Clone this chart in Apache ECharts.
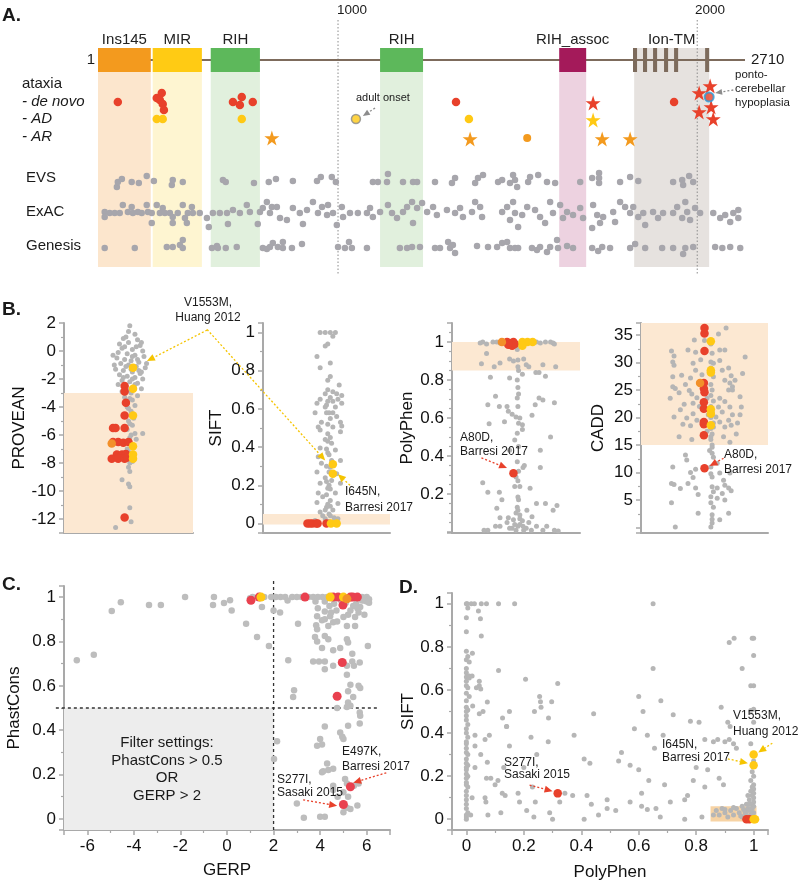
<!DOCTYPE html>
<html lang="en">
<head>
<meta charset="UTF-8">
<title>ITPR1 variants</title>
<script src="https://cdn.jsdelivr.net/npm/echarts/dist/echarts.min.js"></script>
<style>
  html, body { margin: 0; padding: 0; background: #fff; }
  #chart { width: 800px; height: 888px; }
</style>
</head>
<body>
<div id="chart"></div>
<script>
// ---------- panel A: protein diagram (residue, lane) ----------
var proteinLength = 2710;
var domains = [
  ['Ins145', 1, 222],
  ['MIR', 230, 436],
  ['RIH', 473, 679],
  ['RIH', 1182, 1362],
  ['RIH_assoc', 1932, 2045]
];
var ionTmRegion = ['Ion-TM', 2246, 2560];
var tmSegments = [[2241, 2258], [2283, 2300], [2325, 2342], [2371, 2388], [2413, 2430], [2543, 2560]];
var guideResidues = [1006, 2510];

var deNovoDots = [[84,82],[247,78],[268,73],[260,80],[272,84],[277,90],[566,82],[603,77],[595,85],[649,82],[1500,82],[2413,82]];
var deNovoStars = [[2074,83],[2564,66],[2518,73],[2518,92],[2568,87],[2577,99]];
var pchDot = [[2560,77]];
var adDots = [[247,99],[272,99],[603,99],[1554,99]];
var adultOnsetDot = [[1081,99]];
var adStars = [[2074,100]];
var arStars = [[729,118],[1559,119],[2112,119],[2229,119]];
var arDots = [[1798,118]];

var evsDots = [[80,167],[84,162],[101,159],[142,162],[172,163],[205,156],[235,161],[310,165],[314,160],[356,162],[524,160],[536,162],[654,163],[716,162],[746,159],[817,161],[918,161],[934,157],[980,157],[997,162],[1152,162],[1173,162],[1215,154],[1211,162],[1278,162],[1320,162],[1337,162],[1412,162],[1483,163],[1496,158],[1580,163],[1592,158],[1613,155],[1676,162],[1693,160],[1726,163],[1739,155],[1747,160],[1756,167],[1802,162],[1810,157],[1844,155],[1881,162],[1915,163],[2020,162],[2070,158],[2099,153],[2099,158],[2099,163],[2187,162],[2229,157],[2263,161],[2409,162],[2447,160],[2476,156],[2451,165],[2493,162]];

var exacDots = [[29,192],[29,197],[50,193],[71,193],[92,193],[105,185],[126,192],[142,187],[147,193],[168,192],[184,193],[205,185],[210,192],[226,193],[226,203],[247,185],[260,193],[272,188],[281,193],[302,193],[314,197],[314,203],[335,193],[356,185],[365,198],[373,203],[377,193],[394,187],[398,193],[427,193],[457,198],[465,207],[482,193],[511,193],[541,193],[545,204],[566,190],[595,193],[624,185],[637,192],[670,204],[679,192],[691,188],[708,182],[721,193],[729,187],[750,187],[763,198],[792,200],[817,188],[846,193],[859,204],[876,190],[901,182],[922,193],[939,187],[960,195],[964,185],[985,193],[1001,205],[1022,187],[1027,197],[1056,193],[1089,193],[1127,193],[1140,188],[1152,197],[1182,192],[1215,185],[1232,193],[1253,198],[1278,192],[1295,187],[1316,182],[1320,203],[1337,188],[1358,183],[1379,192],[1404,187],[1420,195],[1462,190],[1496,193],[1517,188],[1529,197],[1567,192],[1580,182],[1601,187],[1609,197],[1693,192],[1714,187],[1726,200],[1739,182],[1747,193],[1760,207],[1777,195],[1798,187],[1831,190],[1852,197],[1873,203],[1894,182],[1906,193],[1936,185],[1948,198],[1965,192],[1990,195],[2020,188],[2032,198],[2070,208],[2074,185],[2091,195],[2103,203],[2116,197],[2158,192],[2166,202],[2187,182],[2208,187],[2229,193],[2242,187],[2263,197],[2284,193],[2292,205],[2325,192],[2346,198],[2367,193],[2409,193],[2426,187],[2447,198],[2460,182],[2468,192],[2480,200],[2501,188],[2522,193],[2577,193],[2606,198],[2627,195],[2648,202],[2661,193],[2682,190],[2682,198]];

var genesisDots = [[29,228],[155,228],[289,227],[314,227],[344,225],[356,220],[356,228],[478,228],[499,226],[503,228],[536,228],[582,227],[691,228],[708,229],[721,227],[733,223],[754,227],[775,222],[775,228],[813,228],[855,224],[1006,227],[1035,228],[1052,222],[1064,228],[1127,228],[1265,228],[1295,228],[1316,227],[1349,227],[1412,228],[1433,228],[1467,222],[1475,228],[1487,225],[1496,233],[1588,226],[1634,227],[1672,227],[1693,223],[1714,222],[1726,228],[1747,228],[1760,228],[1818,228],[1839,230],[1852,227],[1881,232],[1894,227],[1923,220],[1927,228],[1965,226],[1990,228],[2070,228],[2095,231],[2112,227],[2145,228],[2229,228],[2250,224],[2292,228],[2363,228],[2409,228],[2451,234],[2460,228],[2493,227],[2585,227],[2615,228],[2648,227],[2690,228]];

var arrowsA = [[1161,88,1110,96],[2661,70,2585,73]];

// ---------- panel B: strip plots (jitter, score) ----------
var proveanGray = [[0.51,1.8],[0.5,1.4],[0.55,1.2],[0.46,0.9],[0.57,0.8],[0.43,0.5],[0.5,0.6],[0.59,0.4],[0.45,0.2],[0.53,0.1],[0.61,0.0],[0.42,-0.1],[0.49,-0.2],[0.55,-0.3],[0.62,-0.4],[0.41,-0.5],[0.47,-0.6],[0.52,-0.7],[0.58,-0.8],[0.44,-0.9],[0.5,-1.0],[0.56,-1.1],[0.63,-1.2],[0.4,-1.3],[0.46,-1.4],[0.53,-1.5],[0.59,-1.6],[0.43,-1.7],[0.49,-1.8],[0.55,-1.9],[0.61,-2.0],[0.45,-2.1],[0.51,-2.2],[0.57,-2.3],[0.42,-2.4],[0.48,-2.5],[0.54,-2.6],[0.6,-2.7],[0.45,-2.9],[0.52,-3.0],[0.57,-3.2],[0.47,-3.3],[0.53,-3.5],[0.49,-3.7],[0.55,-3.9],[0.5,-4.1],[0.52,-4.3],[0.48,-4.6],[0.54,-4.8],[0.5,-5.0],[0.53,-5.3],[0.49,-5.6],[0.55,-5.9],[0.51,-6.2],[0.5,-6.5],[0.53,-6.9],[0.5,-7.2],[0.52,-7.6],[0.51,-8.0],[0.51,-8.6],[0.45,-9.2],[0.5,-9.5],[0.51,-9.7],[0.51,-11.2],[0.52,-12.2],[0.4,-12.6],[0.47,0.3],[0.53,-0.4],[0.57,-0.6],[0.48,-1.1],[0.52,-1.3],[0.58,-1.4],[0.46,-1.9],[0.53,-2.0],[0.5,-2.8],[0.55,-2.4],[0.6,-1.5],[0.64,-0.9],[0.39,-1.0],[0.56,0.3],[0.48,1.0],[0.6,0.6],[0.38,-0.3],[0.51,-3.4],[0.49,-4.0],[0.51,-5.2],[0.52,-6.0],[0.56,-6.3],[0.49,-7.0],[0.53,-7.9],[0.5,-8.3],[0.61,-5.9]];
var proveanRed = [[0.47,-2.5],[0.47,-2.9],[0.48,-3.7],[0.47,-4.6],[0.38,-5.5],[0.4,-5.5],[0.47,-5.5],[0.38,-6.5],[0.42,-6.5],[0.46,-6.55],[0.5,-6.5],[0.41,-7.4],[0.45,-7.4],[0.48,-7.35],[0.37,-7.7],[0.42,-7.7],[0.47,-7.7],[0.49,-7.6],[0.47,-11.9]];
var proveanOrange = [[0.37,-6.6]];
var proveanYellow = [[0.535,-1.2],[0.535,-2.7],[0.535,-4.6],[0.535,-6.8],[0.535,-7.4],[0.535,-7.7]];

var siftGray = [[0.45,1.0],[0.49,1.0],[0.53,1.0],[0.57,1.0],[0.55,0.98],[0.51,0.94],[0.49,0.93],[0.425,0.875],[0.45,0.815],[0.53,0.84],[0.53,0.77],[0.51,0.75],[0.6,0.725],[0.51,0.70],[0.55,0.69],[0.49,0.68],[0.58,0.68],[0.62,0.67],[0.53,0.66],[0.55,0.64],[0.51,0.64],[0.45,0.65],[0.59,0.65],[0.425,0.63],[0.49,0.61],[0.57,0.61],[0.62,0.63],[0.5,0.58],[0.55,0.58],[0.41,0.58],[0.58,0.56],[0.53,0.55],[0.61,0.53],[0.46,0.53],[0.435,0.505],[0.55,0.505],[0.62,0.51],[0.45,0.49],[0.51,0.47],[0.61,0.48],[0.49,0.44],[0.54,0.42],[0.45,0.395],[0.57,0.385],[0.51,0.37],[0.435,0.35],[0.61,0.33],[0.46,0.315],[0.53,0.295],[0.425,0.27],[0.58,0.26],[0.49,0.24],[0.54,0.225],[0.45,0.21],[0.61,0.21],[0.51,0.185],[0.435,0.16],[0.57,0.16],[0.47,0.14],[0.53,0.12],[0.425,0.11],[0.59,0.105],[0.5,0.085],[0.55,0.07],[0.45,0.06],[0.53,0.04],[0.49,0.025],[0.41,0.015],[0.59,0.025],[0.55,0.005],[0.52,0.36],[0.5,0.3],[0.52,0.2],[0.5,0.15],[0.53,0.09],[0.52,0.05],[0.54,0.33],[0.51,0.43],[0.52,0.58],[0.5,0.62],[0.52,0.27],[0.5,0.22],[0.53,0.18],[0.51,0.1],[0.49,0.07],[0.52,0.01],[0.56,0.03],[0.47,0.04],[0.51,0.52],[0.53,0.45],[0.5,0.39]];
var siftRed = [[0.35,0],[0.37,0],[0.39,0],[0.42,0],[0.43,0],[0.5,0]];
var siftYellow = [[0.535,0],[0.58,0],[0.55,0.31],[0.55,0.26]];

var polyGray = [[0.22,0.995],[0.24,1.0],[0.27,0.99],[0.32,1.0],[0.375,0.995],[0.66,1.0],[0.69,0.995],[0.73,1.0],[0.77,1.0],[0.79,0.995],[0.8,0.99],[0.35,1.0],[0.6,1.0],[0.52,0.99],[0.53,0.98],[0.5,0.975],[0.23,0.885],[0.27,0.94],[0.33,0.87],[0.375,0.89],[0.51,0.96],[0.515,0.905],[0.515,0.87],[0.52,0.85],[0.51,0.8],[0.515,0.76],[0.52,0.726],[0.51,0.705],[0.515,0.66],[0.5,0.605],[0.53,0.6],[0.52,0.573],[0.45,0.91],[0.48,0.9],[0.56,0.91],[0.58,0.88],[0.6,0.87],[0.71,0.88],[0.81,0.87],[0.655,0.84],[0.68,0.84],[0.73,0.82],[0.3,0.815],[0.45,0.81],[0.55,0.83],[0.34,0.715],[0.28,0.67],[0.37,0.66],[0.43,0.66],[0.44,0.635],[0.65,0.67],[0.68,0.705],[0.71,0.695],[0.8,0.68],[0.625,0.615],[0.47,0.62],[0.41,0.58],[0.29,0.57],[0.55,0.565],[0.55,0.54],[0.49,0.485],[0.45,0.43],[0.51,0.37],[0.555,0.34],[0.515,0.27],[0.49,0.24],[0.53,0.24],[0.69,0.43],[0.77,0.5],[0.24,0.26],[0.28,0.21],[0.37,0.21],[0.39,0.17],[0.61,0.23],[0.69,0.34],[0.565,0.35],[0.515,0.185],[0.52,0.17],[0.51,0.13],[0.515,0.115],[0.53,0.09],[0.48,0.065],[0.55,0.06],[0.49,0.04],[0.515,0.03],[0.47,0.02],[0.555,0.03],[0.43,0.05],[0.375,0.03],[0.34,0.03],[0.28,0.01],[0.62,0.01],[0.66,0.03],[0.71,0.01],[0.8,0.01],[0.83,0.005],[0.66,0.15],[0.73,0.15],[0.79,0.115],[0.82,0.14],[0.585,0.115],[0.625,0.08],[0.35,0.125],[0.375,0.075],[0.44,0.075],[0.25,0.01],[0.74,0.03],[0.53,0.04],[0.5,0.01],[0.56,0.01],[0.52,0.45],[0.51,0.52],[0.52,0.32],[0.5,0.29],[0.53,0.07],[0.5,0.1],[0.45,0.02],[0.58,0.02],[0.6,0.05]];
var polyRed = [[0.43,1.0],[0.45,0.995],[0.48,1.0],[0.49,0.99],[0.47,0.98],[0.44,0.985],[0.48,0.31]];
var polyOrange = [[0.39,1.0]];
var polyYellow = [[0.55,1.0],[0.59,1.0],[0.63,1.0],[0.55,0.98]];

var caddGray = [[0.24,32.1],[0.26,31.2],[0.25,30.1],[0.26,29.5],[0.37,32.3],[0.42,34.1],[0.43,31.9],[0.61,35.2],[0.67,36.3],[0.62,32.3],[0.66,32.3],[0.55,33.4],[0.56,31.7],[0.55,30.1],[0.57,29.9],[0.55,29.0],[0.56,28.3],[0.57,27.4],[0.41,29.9],[0.43,28.6],[0.39,27.2],[0.25,27.4],[0.32,27.7],[0.25,25.6],[0.27,25.3],[0.23,23.5],[0.38,24.9],[0.4,24.3],[0.44,23.6],[0.41,22.6],[0.34,22.4],[0.31,21.4],[0.26,20.1],[0.36,19.9],[0.41,20.7],[0.44,19.5],[0.39,18.5],[0.33,18.8],[0.62,30.4],[0.64,28.6],[0.69,29.0],[0.71,27.6],[0.66,26.8],[0.70,26.3],[0.72,25.6],[0.69,25.0],[0.74,26.8],[0.72,25.0],[0.62,23.5],[0.66,22.9],[0.61,21.9],[0.70,21.9],[0.64,21.0],[0.59,20.1],[0.72,20.5],[0.69,19.5],[0.62,19.2],[0.66,18.3],[0.71,18.6],[0.57,18.3],[0.78,20.5],[0.76,19.0],[0.79,21.9],[0.78,23.8],[0.55,26.0],[0.56,25.0],[0.55,24.0],[0.57,23.0],[0.55,22.0],[0.56,21.0],[0.55,20.0],[0.57,19.0],[0.55,18.0],[0.56,17.0],[0.55,16.0],[0.56,15.0],[0.52,23.5],[0.53,20.5],[0.52,17.5],[0.25,11.0],[0.24,8.0],[0.26,7.8],[0.24,4.5],[0.31,7.1],[0.35,13.2],[0.36,12.3],[0.39,10.0],[0.37,8.0],[0.41,9.1],[0.43,7.2],[0.43,10.6],[0.45,6.0],[0.45,2.6],[0.27,0.1],[0.55,16.5],[0.56,14.6],[0.57,12.8],[0.55,11.0],[0.56,9.2],[0.56,7.4],[0.55,5.6],[0.57,3.7],[0.56,2.3],[0.56,0.8],[0.55,0.1],[0.6,11.7],[0.62,9.9],[0.65,8.6],[0.6,7.2],[0.70,9.9],[0.66,7.7],[0.64,6.2],[0.66,5.0],[0.6,5.3],[0.69,2.6],[0.62,1.4],[0.69,7.2],[0.71,6.7],[0.56,13.5],[0.55,9.8],[0.57,6.5],[0.55,4.5],[0.56,1.5],[0.54,14.0],[0.82,31.0],[0.8,28.0],[0.5,34.0],[0.47,30.5],[0.35,26.0],[0.3,24.5],[0.48,27.8],[0.46,22.0],[0.48,19.0],[0.3,16.5],[0.4,16.0],[0.65,16.5],[0.7,15.5],[0.75,17.0]];
var caddRed = [[0.5,36.3],[0.5,35.3],[0.5,32.1],[0.495,26.3],[0.495,25.3],[0.5,24.6],[0.495,22.8],[0.495,21.6],[0.495,19.2],[0.495,18.8],[0.495,16.8],[0.5,10.8]];
var caddOrange = [[0.465,26.3]];
var caddYellow = [[0.55,33.9],[0.55,28.6],[0.55,28.2],[0.55,21.5],[0.55,20.7],[0.55,18.6]];

var arrowsProvean = [[1.11,1.5,0.643,-0.71]];
var arrowsSift = [[-0.44,1.016,0.49,0.33],[0.685,0.2,0.59,0.258]];
var arrowsPoly = [[0.23,0.39,0.43,0.337]];
var arrowsCadd = [[0.65,12.6,0.54,11.2]];

// ---------- panel C: GERP vs PhastCons ----------
var gerpGray = [[-6.45,0.715],[-5.72,0.74],[-4.95,0.937],[-4.56,0.977],[-3.35,0.964],[-2.84,0.964],[-1.8,1.0],[-0.56,1.0],[-0.6,0.964],[-0.13,0.973],[0.13,0.986],[0.2,0.94],[0.82,0.88],[1.29,0.82],[1.8,0.78],[0.99,0.995],[1.5,0.955],[2.0,0.94],[2.28,0.93],[3.05,0.88],[2.63,0.715],[2.84,0.55],[2.88,0.58],[1.1,1.0],[1.6,1.0],[1.9,1.0],[2.1,1.0],[2.3,1.0],[2.5,1.0],[2.8,1.0],[3.0,1.0],[3.2,1.0],[3.5,1.0],[3.7,1.0],[3.9,1.0],[4.1,1.0],[4.3,1.0],[4.5,1.0],[4.7,1.0],[5.5,1.0],[5.8,1.0],[6.0,1.0],[6.1,0.99],[2.6,0.985],[3.8,0.98],[4.2,0.98],[5.9,0.985],[6.1,0.975],[3.87,0.914],[4.08,0.896],[4.2,0.9],[4.43,0.914],[4.73,0.89],[5.0,0.91],[5.2,0.92],[5.5,0.91],[5.65,0.93],[5.72,0.955],[5.42,0.96],[5.3,0.94],[6.0,0.98],[5.55,0.97],[4.47,0.93],[3.83,0.873],[3.87,0.855],[4.35,0.87],[4.56,0.887],[5.15,0.87],[5.5,0.87],[3.78,0.82],[3.87,0.8],[4.2,0.825],[4.35,0.81],[5.15,0.81],[5.2,0.795],[4.08,0.77],[4.56,0.76],[4.86,0.77],[5.38,0.745],[3.7,0.71],[3.95,0.71],[4.2,0.71],[4.56,0.69],[5.15,0.69],[5.38,0.71],[5.7,0.705],[4.2,0.675],[5.15,0.65],[5.45,0.69],[6.05,0.78],[5.3,0.605],[5.65,0.6],[5.72,0.59],[5.2,0.575],[5.42,0.55],[5.7,0.48],[5.72,0.465],[5.2,0.525],[5.3,0.51],[5.15,0.505],[4.73,0.5],[4.2,0.417],[5.2,0.42],[5.7,0.43],[4.0,0.36],[4.08,0.335],[3.87,0.33],[4.86,0.39],[4.95,0.37],[5.0,0.36],[2.15,0.35],[2.02,0.27],[4.3,0.25],[4.35,0.22],[4.08,0.21],[4.13,0.215],[4.56,0.226],[5.07,0.18],[5.15,0.16],[4.56,0.15],[4.56,0.13],[5.0,0.12],[5.2,0.1],[5.15,0.05],[5.3,0.045],[5.6,0.06],[3.0,0.07],[3.3,0.005],[4.0,0.01],[4.2,0.01],[5.65,0.16],[5.45,0.15],[4.75,0.1],[5.0,0.03],[4.6,0.97],[4.9,0.985],[5.1,0.975],[5.8,0.985],[4.4,0.96],[3.9,0.95],[5.6,0.95],[4.7,0.94],[5.9,0.92],[4.2,0.935]];
var gerpRed = [[1.03,0.986],[1.38,1.0],[3.35,1.0],[4.56,1.0],[4.77,1.0],[4.98,0.964],[5.4,1.0],[5.6,1.0],[5.3,1.0],[4.95,0.705],[4.73,0.553],[5.3,0.145],[5.0,0.065]];
var gerpYellow = [[1.46,1.0],[4.43,1.0],[5.0,1.0]];
var gerpOrange = [[5.15,0.992]];
var filterBox = [[-7, 2, -0.05, 0.5]];
var filterLines = [[-7.35,0.5,6.45,0.5],[2,-0.05,2,1.08]];
var arrowsGerp = [[6.84,0.208,5.42,0.163],[3.27,0.086,4.73,0.059]];

// ---------- panel D: PolyPhen vs SIFT ----------
var ppSiftGray = [[0.0,1.0],[0.005,0.98],[0.0,0.935],[0.0,0.87],[0.0,0.78],[0.005,0.755],[0.0,0.74],[0.01,0.73],[0.0,0.70],[0.0,0.66],[0.01,0.655],[0.0,0.62],[0.005,0.61],[0.0,0.585],[0.01,0.57],[0.0,0.52],[0.005,0.507],[0.0,0.48],[0.0,0.46],[0.005,0.44],[0.0,0.42],[0.0,0.40],[0.005,0.38],[0.0,0.35],[0.0,0.33],[0.005,0.30],[0.0,0.28],[0.0,0.26],[0.005,0.25],[0.0,0.23],[0.0,0.21],[0.005,0.2],[0.0,0.19],[0.0,0.17],[0.005,0.15],[0.0,0.13],[0.0,0.11],[0.0,0.09],[0.0,0.05],[0.005,0.03],[0.0,0.02],[0.0,0.01],[0.0,0.0],[0.0,0.55],[0.0,0.5],[0.0,0.64],[0.0,0.68],[0.0,0.36],[0.0,0.31],[0.0,0.24],[0.0,0.16],[0.0,0.07],
  [0.003,1.0],[0.017,1.0],[0.028,1.0],[0.052,1.0],[0.07,1.0],[0.112,1.0],[0.168,1.0],[0.65,1.0],
  [0.042,0.967],[0.049,0.93],[0.052,0.85],[0.021,0.77],[0.112,0.69],[0.01,0.665],[0.02,0.665],[0.045,0.64],[0.045,0.62],[0.035,0.61],[0.05,0.605],[0.022,0.525],[0.073,0.544],[0.045,0.49],[0.058,0.5],[0.126,0.47],[0.15,0.5],[0.14,0.43],[0.206,0.65],[0.255,0.57],[0.258,0.545],[0.26,0.52],[0.237,0.5],[0.297,0.545],[0.286,0.47],[0.318,0.63],[0.443,0.49],[0.6,0.57],[0.615,0.5],[0.65,0.70],[0.677,0.55],[0.72,0.485],[0.81,0.45],[0.887,0.52],[0.915,0.82],[0.932,0.84],[0.96,0.70],[0.995,0.84],[1.0,0.76],[0.99,0.62],[0.99,0.505],[0.91,0.45],[0.918,0.43],
  [0.03,0.39],[0.03,0.34],[0.05,0.3],[0.03,0.24],[0.02,0.1],[0.015,0.02],[0.08,0.39],[0.065,0.37],[0.073,0.265],[0.07,0.19],[0.085,0.19],[0.065,0.10],[0.068,0.08],[0.075,0.02],[0.1,0.16],[0.11,0.18],[0.125,0.12],[0.14,0.43],[0.15,0.34],[0.13,0.24],[0.135,0.11],[0.12,0.03],[0.18,0.12],[0.185,0.08],[0.2,0.24],[0.21,0.04],[0.225,0.38],[0.23,0.15],[0.235,0.01],[0.24,0.08],[0.245,0.30],[0.285,0.36],[0.29,0.03],[0.3,0.0],[0.325,0.08],[0.343,0.12],[0.375,0.39],[0.37,0.11],[0.41,0.28],[0.41,0.0],[0.42,0.11],[0.43,0.26],[0.435,0.07],[0.46,0.02],[0.49,0.05],[0.52,0.04],[0.49,0.09],[0.53,0.27],[0.54,0.31],[0.57,0.08],[0.585,0.42],[0.57,0.25],[0.6,0.23],[0.61,0.06],[0.61,0.12],[0.63,0.39],[0.63,0.045],[0.635,0.18],[0.655,0.33],[0.66,0.05],[0.675,0.01],[0.69,0.16],[0.685,0.39],[0.71,0.08],[0.76,0.09],[0.76,0.0],[0.77,0.11],[0.78,0.455],[0.79,0.18],[0.8,0.24],[0.82,0.01],[0.83,0.15],[0.83,0.37],[0.84,0.23],[0.86,0.36],[0.875,0.37],[0.88,0.19],[0.895,0.16],[0.9,0.36],[0.915,0.37],[0.93,0.35],[0.94,0.33],
  [0.995,0.22],[1.0,0.2],[0.99,0.18],[1.0,0.16],[0.995,0.15],[1.0,0.14],[0.99,0.13],[1.0,0.12],[0.995,0.11],[1.0,0.10],[0.985,0.09],[1.0,0.08],[0.99,0.07],[1.0,0.06],[0.995,0.05],[0.98,0.04],[1.0,0.03],[0.99,0.02],[1.0,0.01],[1.0,0.27],[0.99,0.35],[1.0,0.45],[1.0,0.51],[1.0,0.62],[1.0,0.84],[0.98,0.11],[0.975,0.07],
  [0.87,0.04],[0.88,0.02],[0.89,0.05],[0.9,0.03],[0.91,0.01],[0.92,0.04],[0.93,0.02],[0.94,0.05],[0.95,0.03],[0.96,0.01],[0.965,0.045],[0.97,0.03],[0.975,0.02],[0.98,0.05],[0.99,0.04],[0.995,0.02],[0.96,0.06],[0.93,0.055],[0.9,0.045],[0.985,0.07],[0.86,0.02],[0.955,0.015]];
var ppSiftRed = [[0.318,0.12],[0.975,0.0],[0.985,0.0]];
var ppSiftYellow = [[1.0,0.30],[1.0,0.25],[1.0,0.0],[1.005,0.0]];
var damagingBox = [[0.85, 1.01, -0.01, 0.06]];
var arrowsPpYellow = [[1.065,0.353,1.016,0.31],[0.91,0.28,0.98,0.26]];
var arrowsPpRed = [[0.22,0.158,0.3,0.13]];

// ---------- styling ----------
var FONT = "'Liberation Sans', Arial, Helvetica, sans-serif";
var AX = '#A9A9A9';
var RED = '#E8412B', YELLOW = '#FFC914', ORANGE = '#F2902A';
var STAR = 'path://M50 0 L61.8 35.4 L99 35.4 L69 57.3 L80.4 92.7 L50 70.8 L19.6 92.7 L31 57.3 L1 35.4 L38.2 35.4 Z';
var boxColor = { 'Ins145': '#F39A1E', 'MIR': '#FFCB14', 'RIH': '#5DB85B', 'RIH_assoc': '#A41A5A', 'Ion-TM': '#7D6B5C' };
var bandColor = { 'Ins145': '#FCE6CD', 'MIR': '#FEF5D1', 'RIH': '#E1F0DD', 'RIH_assoc': '#EDD2E0', 'Ion-TM': '#E6E2DF' };
var lane = { label: 20, line: 40, boxTop: 28, boxBottom: 52, bandBottom: 247, guideTop: 0, guideBottom: 255 };

function dots(gi, data, color, size, z, extra) {
  return Object.assign({
    type: 'scatter', xAxisIndex: gi, yAxisIndex: gi, data: data,
    symbolSize: size, z: z, silent: true, itemStyle: { color: color, opacity: 1 }
  }, extra || {});
}

// rectangles [x0, x1, y0, y1], optional name drawn above
function rects(gi, items, z, labelLane) {
  return {
    type: 'custom', xAxisIndex: gi, yAxisIndex: gi, z: z, silent: true, clip: false,
    data: items,
    renderItem: function (params, api) {
      var p0 = api.coord([api.value(0), api.value(3)]);
      var p1 = api.coord([api.value(1), api.value(2)]);
      var item = items[params.dataIndex];
      var children = [{
        type: 'rect',
        shape: { x: p0[0], y: Math.min(p0[1], p1[1]), width: p1[0] - p0[0], height: Math.abs(p1[1] - p0[1]) },
        style: { fill: item.itemStyle.color }
      }];
      if (labelLane != null && item.name) {
        var c = api.coord([(api.value(0) + api.value(1)) / 2, labelLane]);
        children.push({ type: 'text', x: c[0], y: c[1],
          style: { text: item.name, fontSize: 15, fontFamily: FONT, fill: '#222', align: 'center', verticalAlign: 'middle' } });
      }
      return { type: 'group', children: children };
    }
  };
}

// dotted annotation arrows / guide lines [x0, y0, x1, y1]
function arrows(gi, data, color, opts) {
  opts = opts || {};
  var head = opts.head !== false;
  return {
    type: 'custom', xAxisIndex: gi, yAxisIndex: gi, z: opts.z || 20, silent: true, clip: false,
    data: data,
    renderItem: function (params, api) {
      var a = api.coord([api.value(0), api.value(1)]);
      var b = api.coord([api.value(2), api.value(3)]);
      var children = [];
      var end = b;
      if (head) {
        var ang = Math.atan2(b[1] - a[1], b[0] - a[0]);
        var L = opts.len || 8, W = opts.wid || 3.5;
        end = [b[0] - L * Math.cos(ang), b[1] - L * Math.sin(ang)];
        children.push({ type: 'polygon', shape: { points: [b,
          [end[0] + W * Math.sin(ang), end[1] - W * Math.cos(ang)],
          [end[0] - W * Math.sin(ang), end[1] + W * Math.cos(ang)]] }, style: { fill: color } });
      }
      children.unshift({ type: 'line', shape: { x1: a[0], y1: a[1], x2: end[0], y2: end[1] },
        style: { stroke: color, lineWidth: opts.width || 1.3, lineDash: opts.dash || [2, 2] } });
      return { type: 'group', children: children };
    }
  };
}

function valAx(gi, min, max, split, step, minor, name, gap, hideZero) {
  return {
    type: 'value', gridIndex: gi, min: min, max: max, splitNumber: split,
    name: name, nameLocation: 'middle', nameGap: gap,
    nameTextStyle: { fontSize: 17, color: '#111', fontFamily: FONT },
    axisLine: { show: true, onZero: false, lineStyle: { color: AX, width: 2 } },
    axisTick: { show: true, length: 5, lineStyle: { color: AX, width: 1.5 } },
    minorTick: { show: true, splitNumber: minor, length: 3, lineStyle: { color: AX, width: 1.2 } },
    splitLine: { show: false }, minorSplitLine: { show: false },
    axisLabel: {
      fontSize: 17, color: '#111', fontFamily: FONT, margin: 8,
      formatter: function (v) {
        var r = v / step;
        if (Math.abs(r - Math.round(r)) > 1e-6) return '';
        if (hideZero && Math.abs(v) < 1e-9) return '';
        return String(Math.round(v * 100) / 100);
      }
    }
  };
}
function stripX(gi) {
  return { type: 'value', gridIndex: gi, min: 0, max: 1,
    axisLine: { show: true, onZero: false, lineStyle: { color: AX, width: 2 } },
    axisTick: { show: false }, axisLabel: { show: false }, splitLine: { show: false } };
}
function T(x, y, text, size, style) {
  return { type: 'text', x: x, y: y, silent: true, z: 100,
    style: Object.assign({ text: text, fontSize: size, fontFamily: FONT, fill: '#1a1a1a', align: 'left', verticalAlign: 'middle' }, style || {}) };
}

var chart = echarts.init(document.getElementById('chart'), null, { renderer: 'canvas' });

var bandItems = domains.map(function (d) {
  return { name: d[0], value: [d[1], d[2], lane.boxBottom, lane.bandBottom], itemStyle: { color: bandColor[d[0]] } };
});
bandItems.push({ name: ionTmRegion[0], value: [ionTmRegion[1], ionTmRegion[2], lane.boxTop, lane.bandBottom], itemStyle: { color: bandColor['Ion-TM'] } });
var boxItems = domains.map(function (d) {
  return { value: [d[1], d[2], lane.boxTop, lane.boxBottom], itemStyle: { color: boxColor[d[0]] } };
}).concat(tmSegments.map(function (s) {
  return { value: [s[0], s[1], lane.boxTop, lane.boxBottom], itemStyle: { color: boxColor['Ion-TM'] } };
}));
var guideItems = guideResidues.map(function (r) { return [r, lane.guideTop, r, lane.guideBottom]; });

var grayA = '#A7A6AC', grayB = '#B5B5B5', grayC = '#BDBDBD', grayD = '#B6B6B6';

var option = {
  animation: false,
  backgroundColor: '#ffffff',
  textStyle: { fontFamily: FONT },
  grid: [
    { left: 98, top: 5, width: 647, height: 270 },
    { left: 64, top: 323, width: 129, height: 210 },
    { left: 263, top: 323, width: 127, height: 210 },
    { left: 452, top: 323, width: 128, height: 210 },
    { left: 641, top: 323, width: 127, height: 210 },
    { left: 64, top: 586, width: 326, height: 244 },
    { left: 452, top: 593, width: 316, height: 237 }
  ],
  xAxis: [
    { type: 'value', gridIndex: 0, min: 1, max: proteinLength, show: false },
    stripX(1), stripX(2), stripX(3), stripX(4),
    valAx(5, -7, 7, 7, 2, 2, 'GERP', 32),
    valAx(6, -0.05, 1.05, 5, 0.2, 2, 'PolyPhen', 34)
  ],
  yAxis: [
    { type: 'value', gridIndex: 0, min: -15, max: 255, inverse: true, show: false },
    valAx(1, -13, 2, 7, 2, 2, 'PROVEAN', 26),
    valAx(2, -0.05, 1.05, 5, 0.2, 2, 'SIFT', 38),
    valAx(3, -0.005, 1.1, 5, 0.2, 4, 'PolyPhen', 36, true),
    valAx(4, -1, 37.2, 8, 5, 2, 'CADD', 34, true),
    valAx(5, -0.05, 1.05, 5, 0.2, 2, 'PhastCons', 41),
    valAx(6, -0.05, 1.05, 5, 0.2, 2, 'SIFT', 33)
  ],
  series: [
    // A
    rects(0, bandItems, 1, lane.label),
    arrows(0, guideItems, '#8C8C8C', { head: false, z: 2, width: 1, dash: [1.5, 2] }),
    { type: 'line', xAxisIndex: 0, yAxisIndex: 0, z: 3, silent: true, symbol: 'none',
      data: [[1, lane.line], [proteinLength, lane.line]], lineStyle: { color: '#7D6B5C', width: 2 } },
    rects(0, boxItems, 4),
    dots(0, evsDots, grayA, 6.5, 5),
    dots(0, exacDots, grayA, 6.5, 5),
    dots(0, genesisDots, grayA, 6.5, 5),
    dots(0, deNovoDots, RED, 8.5, 6),
    dots(0, deNovoStars, RED, 15, 6, { symbol: STAR }),
    dots(0, pchDot, RED, 9, 7, { itemStyle: { color: RED, borderColor: '#2A9BD7', borderWidth: 2 } }),
    dots(0, adDots, YELLOW, 8.5, 6),
    dots(0, adultOnsetDot, YELLOW, 9, 6, { itemStyle: { color: YELLOW, borderColor: '#8A8A8A', borderWidth: 1.5 } }),
    dots(0, adStars, YELLOW, 15, 6, { symbol: STAR }),
    dots(0, arStars, '#F39A1E', 15, 6, { symbol: STAR }),
    dots(0, arDots, '#F39A1E', 8, 6),
    arrows(0, arrowsA, '#8C8C8C', { len: 7, wid: 3 }),
    // B: PROVEAN
    rects(1, [{ value: [0, 1, -13, -3], itemStyle: { color: '#FCE8D2' } }], 1),
    dots(1, proveanGray, grayB, 5, 5),
    dots(1, proveanRed, RED, 8.5, 6),
    dots(1, proveanOrange, ORANGE, 8.5, 6),
    dots(1, proveanYellow, YELLOW, 8.5, 7),
    arrows(1, arrowsProvean, '#F5C400'),
    // SIFT
    rects(2, [{ value: [0, 1, -0.005, 0.05], itemStyle: { color: '#FCE8D2' } }], 1),
    dots(2, siftGray, grayB, 5, 5),
    dots(2, siftRed, RED, 8.5, 6),
    dots(2, siftYellow, YELLOW, 8.5, 7),
    arrows(2, arrowsSift, '#F5C400'),
    // PolyPhen
    rects(3, [{ value: [0, 1, 0.85, 1.0], itemStyle: { color: '#FCE8D2' } }], 1),
    dots(3, polyGray, grayB, 5, 5),
    dots(3, polyRed, RED, 8.5, 6),
    dots(3, polyOrange, ORANGE, 8.5, 6),
    dots(3, polyYellow, YELLOW, 8.5, 7),
    arrows(3, arrowsPoly, RED),
    // CADD
    rects(4, [{ value: [0, 1, 15, 37.2], itemStyle: { color: '#FCE8D2' } }], 1),
    dots(4, caddGray, grayB, 5, 5),
    dots(4, caddRed, RED, 8.5, 6),
    dots(4, caddOrange, ORANGE, 8.5, 6),
    dots(4, caddYellow, YELLOW, 8.5, 7),
    arrows(4, arrowsCadd, RED),
    // C
    rects(5, filterBox.map(function (b) { return { value: b, itemStyle: { color: '#EDEDED' } }; }), 1),
    arrows(5, filterLines, '#333333', { head: false, z: 3, width: 1.3, dash: [3, 3] }),
    dots(5, gerpGray, grayC, 6.5, 5),
    dots(5, gerpRed, '#E9414F', 9, 6),
    dots(5, gerpYellow, YELLOW, 9, 7),
    dots(5, gerpOrange, ORANGE, 9, 8),
    arrows(5, arrowsGerp, RED),
    // D
    rects(6, damagingBox.map(function (b) { return { value: b, itemStyle: { color: '#F7D3A4' } }; }), 1),
    dots(6, ppSiftGray, grayD, 5, 5),
    dots(6, ppSiftRed, RED, 8.5, 6),
    dots(6, ppSiftYellow, YELLOW, 8.5, 7),
    arrows(6, arrowsPpYellow, '#F5C400'),
    arrows(6, arrowsPpRed, RED)
  ],
  graphic: [
    T(2, 16, 'A.', 19, { fontWeight: 'bold' }),
    T(2, 310, 'B.', 19, { fontWeight: 'bold' }),
    T(2, 585, 'C.', 19, { fontWeight: 'bold' }),
    T(399, 588, 'D.', 19, { fontWeight: 'bold' }),
    T(95, 60, '1', 15, { align: 'right' }),
    T(751, 60, '2710', 15),
    T(337, 10, '1000', 13.5),
    T(695, 10, '2000', 13.5),
    T(22, 84, 'ataxia', 15),
    T(22, 102, '- de novo', 15, { fontStyle: 'italic' }),
    T(22, 119, '- AD', 15, { fontStyle: 'italic' }),
    T(22, 137, '- AR', 15, { fontStyle: 'italic' }),
    T(26, 178, 'EVS', 15),
    T(26, 212, 'ExAC', 15),
    T(26, 246, 'Genesis', 15),
    T(356, 98, 'adult onset', 11),
    T(735, 89, 'ponto-\ncerebellar\nhypoplasia', 11.5, { lineHeight: 14 }),
    T(208, 310, 'V1553M,\nHuang 2012', 12, { align: 'center', lineHeight: 15 }),
    T(345, 500, 'I645N,\nBarresi 2017', 12, { lineHeight: 16 }),
    T(460, 444.5, 'A80D,\nBarresi 2017', 12, { lineHeight: 14 }),
    T(724, 462.5, 'A80D,\nBarresi 2017', 12, { lineHeight: 15 }),
    T(342, 759.5, 'E497K,\nBarresi 2017', 12, { lineHeight: 15 }),
    T(277, 786, 'S277I,\nSasaki 2015', 12, { lineHeight: 13 }),
    T(167, 769.5, 'Filter settings:\nPhastCons > 0.5\nOR\nGERP > 2', 15, { align: 'center', lineHeight: 17.7 }),
    T(733, 724, 'V1553M,\nHuang 2012', 12, { lineHeight: 16 }),
    T(662, 751.5, 'I645N,\nBarresi 2017', 12, { lineHeight: 13 }),
    T(504, 769, 'S277I,\nSasaki 2015', 12, { lineHeight: 12 })
  ]
};

chart.setOption(option);
</script>
</body>
</html>
